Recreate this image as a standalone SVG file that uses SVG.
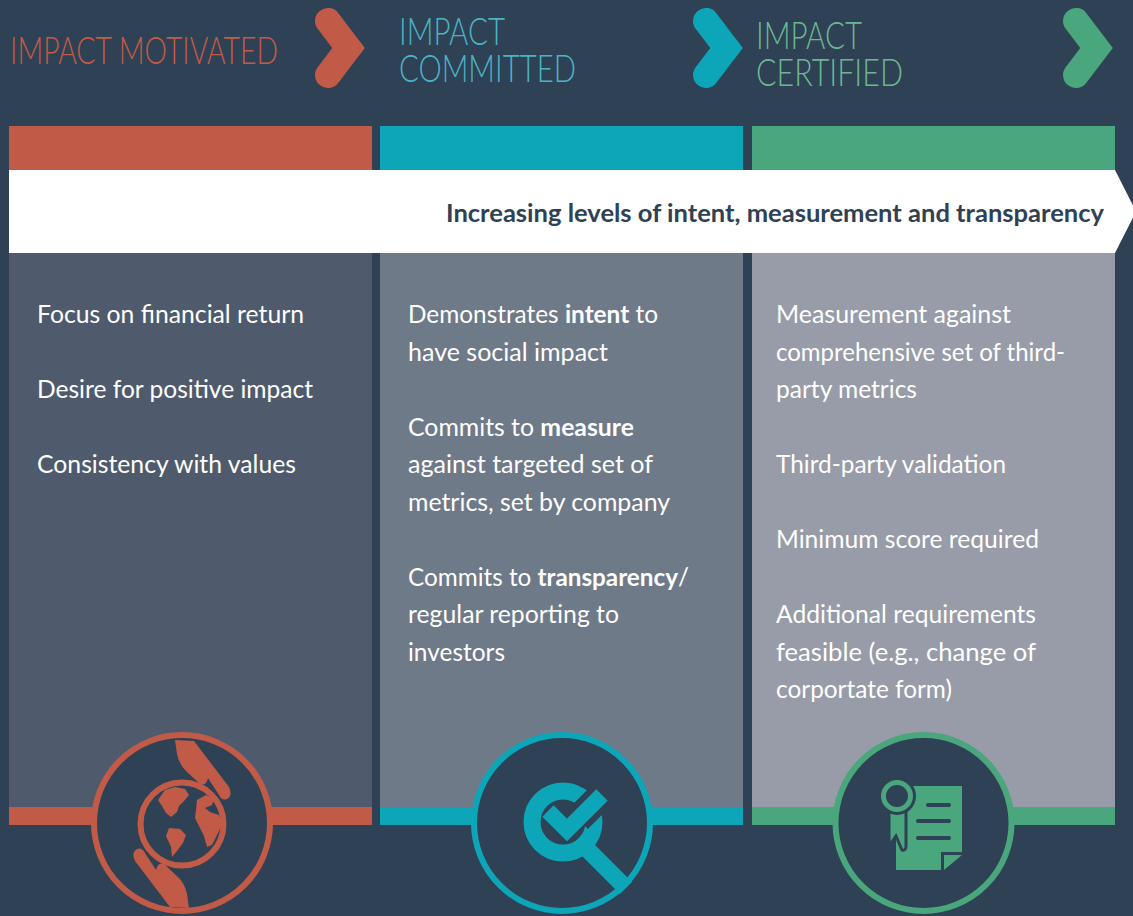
<svg xmlns="http://www.w3.org/2000/svg" width="1133" height="916" viewBox="0 0 1133 916">
<defs>
<style>
.bg{fill:#2f4154}
.body{font-family:"Lato","Open Sans","Liberation Sans",sans-serif;font-size:25px;fill:#ffffff}
.b{font-weight:700}
.hd{font-family:"Lato","Roboto","Liberation Sans",sans-serif;font-weight:300;font-size:38px}
.chev{fill:none;stroke-width:26;stroke-linecap:round;stroke-linejoin:miter}
.ring{fill:#2f4154;stroke-width:6}
</style>
</defs>
<rect class="bg" x="0" y="0" width="1133" height="916"/>

<g id="header">
<text class="hd" x="10" y="64" fill="#c15b48" textLength="268" lengthAdjust="spacingAndGlyphs">IMPACT MOTIVATED</text>
<path class="chev" stroke="#c15b48" d="M328,21 L348.5,48 L328,75"/>
<text class="hd" x="399" y="45" fill="#4ab3c4" textLength="106" lengthAdjust="spacingAndGlyphs">IMPACT</text>
<text class="hd" x="399" y="82" fill="#4ab3c4" textLength="177" lengthAdjust="spacingAndGlyphs">COMMITTED</text>
<path class="chev" stroke="#0ca6b8" d="M706,21 L726.5,48 L706,75"/>
<text class="hd" x="756" y="49" fill="#6ab892" textLength="106" lengthAdjust="spacingAndGlyphs">IMPACT</text>
<text class="hd" x="756" y="86" fill="#6ab892" textLength="147" lengthAdjust="spacingAndGlyphs">CERTIFIED</text>
<path class="chev" stroke="#4aa67c" d="M1076,21 L1096.5,48 L1076,75"/>
</g>

<g id="col-motivated">
<rect x="9" y="126" width="363" height="44" fill="#c15b48"/>
<rect x="9" y="253" width="363" height="554" fill="#4f5b6c"/>
<rect x="9" y="807" width="363" height="18" fill="#c15b48"/>
<text class="body" x="37" y="323" textLength="267" lengthAdjust="spacingAndGlyphs">Focus on financial return</text>
<text class="body" x="37" y="398" textLength="276" lengthAdjust="spacingAndGlyphs">Desire for positive impact</text>
<text class="body" x="37" y="473" textLength="259" lengthAdjust="spacingAndGlyphs">Consistency with values</text>
</g>

<g id="col-committed">
<rect x="380" y="126" width="363" height="44" fill="#0ca6b8"/>
<rect x="380" y="253" width="363" height="554" fill="#6f7a89"/>
<rect x="380" y="807" width="363" height="18" fill="#0ca6b8"/>
<text class="body" x="408" y="323" textLength="250" lengthAdjust="spacingAndGlyphs">Demonstrates <tspan class="b">intent</tspan> to</text>
<text class="body" x="408" y="361" textLength="200" lengthAdjust="spacingAndGlyphs">have social impact</text>
<text class="body" x="408" y="436" textLength="226" lengthAdjust="spacingAndGlyphs">Commits to <tspan class="b">measure</tspan></text>
<text class="body" x="408" y="473" textLength="245" lengthAdjust="spacingAndGlyphs">against targeted set of</text>
<text class="body" x="408" y="511" textLength="262" lengthAdjust="spacingAndGlyphs">metrics, set by company</text>
<text class="body" x="408" y="586" textLength="281" lengthAdjust="spacingAndGlyphs">Commits to <tspan class="b">transparency</tspan>/</text>
<text class="body" x="408" y="623" textLength="211" lengthAdjust="spacingAndGlyphs">regular reporting to</text>
<text class="body" x="408" y="661" textLength="97" lengthAdjust="spacingAndGlyphs">investors</text>
</g>

<g id="col-certified">
<rect x="752" y="126" width="363" height="44" fill="#4aa67c"/>
<rect x="752" y="253" width="363" height="554" fill="#979ca8"/>
<rect x="752" y="807" width="363" height="18" fill="#4aa67c"/>
<text class="body" x="776" y="323" textLength="235" lengthAdjust="spacingAndGlyphs">Measurement against</text>
<text class="body" x="776" y="361" textLength="289" lengthAdjust="spacingAndGlyphs">comprehensive set of third-</text>
<text class="body" x="776" y="398" textLength="141" lengthAdjust="spacingAndGlyphs">party metrics</text>
<text class="body" x="776" y="473" textLength="230" lengthAdjust="spacingAndGlyphs">Third-party validation</text>
<text class="body" x="776" y="548" textLength="263" lengthAdjust="spacingAndGlyphs">Minimum score required</text>
<text class="body" x="776" y="623" textLength="260" lengthAdjust="spacingAndGlyphs">Additional requirements</text>
<text class="body" x="776" y="661" textLength="260" lengthAdjust="spacingAndGlyphs">feasible (e.g., change of</text>
<text class="body" x="776" y="698" textLength="176" lengthAdjust="spacingAndGlyphs">corportate form)</text>
</g>

<g id="band">
<polygon points="9,170 1115,170 1136,211.5 1115,253 9,253" fill="#ffffff"/>
<text x="446" y="222" font-family="Lato,'Open Sans','Liberation Sans',sans-serif" font-weight="700" font-size="24" fill="#2f4154" textLength="658" lengthAdjust="spacingAndGlyphs">Increasing levels of intent, measurement and transparency</text>
</g>

<g id="icon-globe">
<circle class="ring" cx="182" cy="823" r="88" stroke="#c15b48"/>
<circle cx="182" cy="824" r="41.5" fill="none" stroke="#c15b48" stroke-width="6"/>
<path fill="#c15b48" d="M158,800 L165,790 L175,787 L185,789 L189,795 L184,801 L179,806 L177,812 L171,817 L166,813 L162,806 Z"/>
<path fill="#c15b48" d="M169,828 L180,829 L186,835 L183,843 L177,851 L172,857 L171,847 L166,836 Z"/>
<path fill="#c15b48" d="M197,800 L206,795 L214,799 L212,805 L205,808 L210,812 L219,815 L222,825 L217,835 L212,845 L207,847 L204,836 L199,826 L195,818 L196,810 Z"/>
<path id="hand-top" fill="#c15b48" d="M175,740 L194,741 L229,787 Q233,796 227,799 Q222,801 219,795 L208,778 L207,781 Q205,786 200,784 L186,771 Q179,764 177,754 Z"/>
<path fill="#c15b48" transform="rotate(180 182 824)" d="M175,740 L194,741 L229,787 Q233,796 227,799 Q222,801 219,795 L208,778 L207,781 Q205,786 200,784 L186,771 Q179,764 177,754 Z"/>
</g>

<g id="icon-magnifier">
<circle class="ring" cx="562" cy="823" r="88" stroke="#0ca6b8"/>
<circle cx="563" cy="822" r="31" fill="none" stroke="#0ca6b8" stroke-width="17"/>
<line x1="588" y1="850" x2="626" y2="888" stroke="#0ca6b8" stroke-width="17"/>
<path d="M578,819 L604,793" stroke="#2f4154" stroke-width="28" fill="none"/>
<polyline points="548,811 567,830 602,795" fill="none" stroke="#0ca6b8" stroke-width="16" stroke-linejoin="miter"/>
</g>

<g id="icon-certificate">
<circle class="ring" cx="923.5" cy="823" r="88" stroke="#4aa67c"/>
<path fill="#4aa67c" d="M896,786 H962 V852 H941 V870 H896 Z"/>
<path fill="#4aa67c" d="M944,855 H962 L944,870 Z"/>
<g stroke="#2f4154" stroke-width="4" stroke-linecap="round">
<line x1="928" y1="805" x2="949" y2="805"/>
<line x1="918" y1="821" x2="949" y2="821"/>
<line x1="918" y1="838" x2="949" y2="838"/>
</g>
<path fill="#4aa67c" stroke="#2f4154" stroke-width="3" d="M889,806 H906 V846 Q906,851 902,850 L896,836 L889,846 Z"/>
<circle cx="897" cy="796" r="19" fill="#2f4154"/>
<circle cx="897" cy="796" r="13.5" fill="#2f4154" stroke="#4aa67c" stroke-width="5"/>
</g>
</svg>
